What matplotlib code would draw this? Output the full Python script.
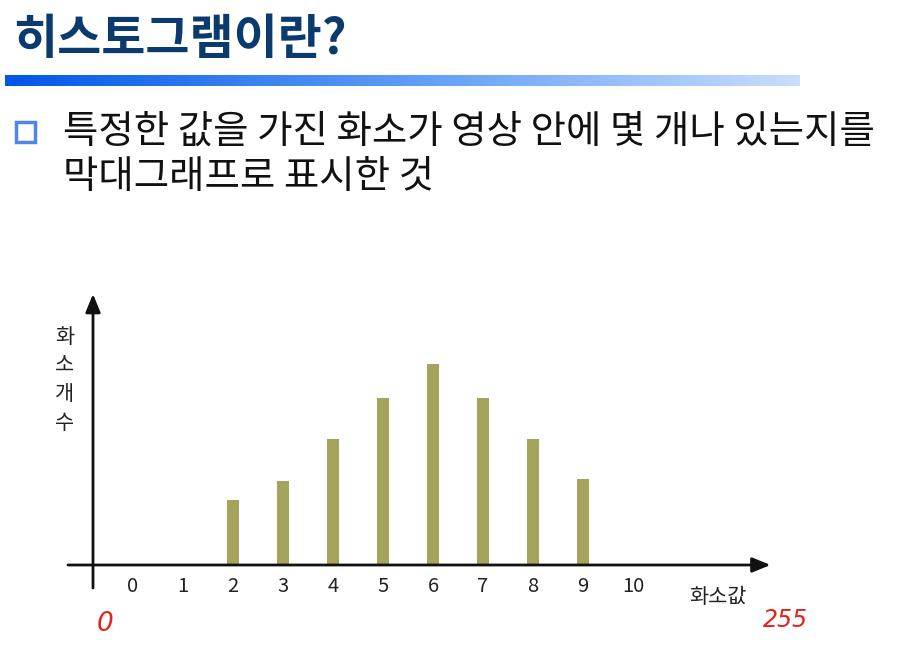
import numpy as np
import matplotlib
matplotlib.use("Agg")
import matplotlib.pyplot as plt
from matplotlib.colors import LinearSegmentedColormap

plt.rcParams['font.family'] = ['Noto Sans CJK KR', 'DejaVu Sans']

# ---- data ----
pixel_values = [0, 1, 2, 3, 4, 5, 6, 7, 8, 9, 10]
pixel_counts = [0, 0, 65, 84, 126, 167, 201, 167, 126, 86, 0]
tick_labels = [str(v) for v in pixel_values]
title = "히스토그램이란?"
line1 = "특정한 값을 가진 화소가 영상 안에 몇 개나 있는지를"
line2 = "막대그래프로 표시한 것"
xlabel = "화소값"
ylabel = "화소개수"

W, H = 907, 650
fig = plt.figure(figsize=(W / 100, H / 100), dpi=100)
fig.patch.set_facecolor("white")

# ---- header ----
fig.text(13 / W, 1 - 40 / H, title, fontsize=34.5, fontweight="bold",
         color="#0b3a6f", va="center", ha="left")

gax = fig.add_axes([5 / W, 1 - 86 / H, 795 / W, 11 / H])
grad = np.linspace(0, 1, 256)[None, :]
cmap = LinearSegmentedColormap.from_list("g", ["#0057e8", "#5c9bf5", "#c9defd"])
gax.imshow(grad, aspect="auto", cmap=cmap, extent=[0, 1, 0, 1])
gax.axis("off")

# bullet
fig.patches.append(plt.Rectangle((16 / W, 1 - 142 / H), 19 / W, 20 / H,
                                 transform=fig.transFigure, fill=False,
                                 edgecolor="#4f86ea", linewidth=2.5))
fig.text(63 / W, 1 - 132 / H, line1, fontsize=27.7, color="#111111",
         va="center", ha="left")
fig.text(63 / W, 1 - 177 / H, line2, fontsize=27.7, color="#111111",
         va="center", ha="left")

# ---- chart ----
# data -> px: x_px = 133 + 50*x ; y_px = 565 - y
x0, x1 = -1.5, 13.0
y0, y1 = -50, 280
ax = fig.add_axes([(133 + 50 * x0) / W, (H - (565 - y0)) / H,
                   50 * (x1 - x0) / W, (y1 - y0) / H])
ax.set_xlim(x0, x1)
ax.set_ylim(y0, y1)
ax.axis("off")

ax.bar(pixel_values, pixel_counts, width=0.25, color="#a4a35c", zorder=2)

# axes with arrows
ax.annotate("", xy=(12.75, 0), xytext=(-1.3, 0),
            arrowprops=dict(arrowstyle="-|>,head_length=1.1,head_width=0.45",
                            color="#111111", lw=2, shrinkA=0, shrinkB=0))
ax.annotate("", xy=(-0.8, 271), xytext=(-0.8, -23),
            arrowprops=dict(arrowstyle="-|>,head_length=1.1,head_width=0.45",
                            color="#111111", lw=2, shrinkA=0, shrinkB=0))

for v, lab in zip(pixel_values, tick_labels):
    ax.text(v, -22, lab, ha="center", va="center", fontsize=14.5,
            color="#222222")

ax.text(11.7, -32, xlabel, ha="center", va="center", fontsize=15,
        color="#222222")

fig.text(65 / W, 1 - 380 / H, "\n".join(ylabel), ha="center", va="center",
         fontsize=15, color="#222222", linespacing=1.4)

# red handwritten marks
fig.text(105 / W, 1 - 624 / H, "0", color="#e8201a", fontsize=19,
         style="italic", ha="center", va="center", family="DejaVu Sans")
fig.text(785 / W, 1 - 620 / H, "255", color="#e8201a", fontsize=17,
         style="italic", ha="center", va="center", family="DejaVu Sans")

fig.savefig("out.png", dpi=100)
